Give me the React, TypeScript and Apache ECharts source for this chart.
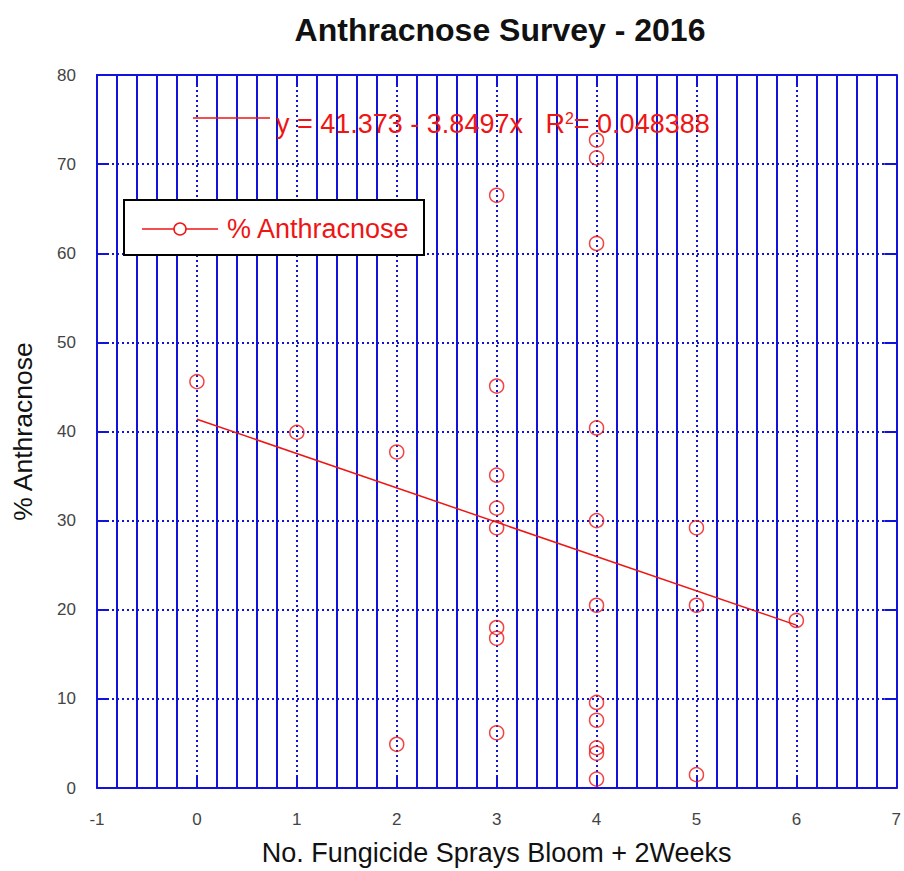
import React, { useEffect, useRef } from "react";
import * as echarts from "echarts";

// ---- data ----
const sprayCounts: number[] = [0, 1, 2, 2, 3, 3, 3, 3, 3, 3, 3, 3, 4, 4, 4, 4, 4, 4, 4, 4, 4, 4, 4, 5, 5, 5, 6];
const anthracnosePct: number[] = [45.6, 39.9, 37.7, 4.9, 66.5, 45.1, 35.1, 31.4, 29.2, 18.0, 16.8, 6.2, 72.7, 70.7, 61.1, 40.4, 30.0, 20.5, 9.6, 7.6, 4.5, 3.9, 1.0, 29.2, 20.5, 1.5, 18.8];
const fitX: number[] = [0, 6];
const fitY: number[] = [41.373, 18.275];
const xTicks = { min: -1, max: 7, step: 1 };
const yTicks = { min: 0, max: 80, step: 10 };
const TITLE = "Anthracnose Survey - 2016";
const SERIES_NAME = "% Anthracnose";
const X_NAME = "No. Fungicide Sprays Bloom + 2Weeks";
const Y_NAME = "% Anthracnose";

const BLUE = "#1212dd";
const RED = "#ee1515";
const FONT = "'Liberation Sans', Arial, Helvetica, sans-serif";

export default function App() {
  const ref = useRef<HTMLDivElement>(null);
  useEffect(() => {
    if (!ref.current) return;
    const chart = echarts.init(ref.current, undefined, { renderer: "svg" });
    const points = sprayCounts.map((x, i) => [x, anthracnosePct[i]]);
    const fit = fitX.map((x, i) => [x, fitY[i]]);
    const tickCommon = {
      show: true,
      inside: true,
      length: 12,
      lineStyle: { color: BLUE, width: 2 },
    };
    const lineCommon = { show: true, onZero: false, lineStyle: { color: BLUE, width: 2 } };
    const dotted = { show: true, lineStyle: { color: BLUE, width: 2, type: [2, 3] } };
    chart.setOption({
      animation: false,
      textStyle: { fontFamily: FONT },
      title: {
        text: TITLE,
        left: 495,
        textAlign: "center",
        top: 9,
        textStyle: { fontFamily: FONT, fontWeight: "bold", fontSize: 32, color: "#111" },
      },
      grid: { left: 97, right: 7, top: 75, bottom: 81, containLabel: false },
      xAxis: [
        {
          type: "value",
          min: xTicks.min,
          max: xTicks.max,
          interval: xTicks.step,
          position: "bottom",
          name: X_NAME,
          nameLocation: "middle",
          nameGap: 51,
          nameTextStyle: { fontFamily: FONT, fontSize: 27, color: "#111" },
          axisLine: lineCommon,
          axisTick: tickCommon,
          axisLabel: { fontFamily: FONT, fontSize: 17, color: "#444", margin: 23 },
          splitLine: dotted,
          minorTick: { show: false, splitNumber: 5 },
          minorSplitLine: { show: true, lineStyle: { color: BLUE, width: 2, type: "solid" } },
        },
        {
          type: "value",
          min: xTicks.min,
          max: xTicks.max,
          interval: xTicks.step,
          position: "top",
          axisLine: lineCommon,
          axisTick: tickCommon,
          axisLabel: { show: false },
          splitLine: { show: false },
        },
      ],
      yAxis: [
        {
          type: "value",
          min: yTicks.min,
          max: yTicks.max,
          interval: yTicks.step,
          position: "left",
          name: Y_NAME,
          nameLocation: "middle",
          nameGap: 61,
          nameTextStyle: { fontFamily: FONT, fontSize: 26.5, color: "#111" },
          axisLine: lineCommon,
          axisTick: tickCommon,
          axisLabel: { fontFamily: FONT, fontSize: 17, color: "#444", margin: 21 },
          splitLine: dotted,
        },
        {
          type: "value",
          min: yTicks.min,
          max: yTicks.max,
          interval: yTicks.step,
          position: "right",
          axisLine: lineCommon,
          axisTick: tickCommon,
          axisLabel: { show: false },
          splitLine: { show: false },
        },
      ],
      series: [
        {
          name: "fit",
          type: "line",
          data: fit,
          showSymbol: false,
          symbol: "none",
          lineStyle: { color: RED, width: 1.5 },
          z: 3,
        },
        {
          name: SERIES_NAME,
          type: "scatter",
          data: points,
          symbol: "circle",
          symbolSize: 14,
          itemStyle: { color: "rgba(0,0,0,0)", borderColor: RED, borderWidth: 1.5 },
          z: 4,
        },
      ],
      graphic: [
        {
          type: "line",
          shape: { x1: 193, y1: 118, x2: 270, y2: 118 },
          style: { stroke: RED, lineWidth: 1.5 },
          z: 10,
        },
        {
          type: "text",
          x: 276,
          y: 124,
          style: {
            text: "{a|y = 41.373 - 3.8497x   R}{s|2}{a|= 0.048388}",
            verticalAlign: "middle",
            rich: {
              a: { fontFamily: FONT, fontSize: 27, fill: RED },
              s: { fontFamily: FONT, fontSize: 16, fill: RED, verticalAlign: "top" },
            },
          },
          z: 10,
        },
        {
          type: "rect",
          shape: { x: 124, y: 200, width: 300, height: 55 },
          style: { fill: "#fff", stroke: "#000", lineWidth: 2 },
          z: 10,
        },
        {
          type: "line",
          shape: { x1: 142, y1: 229, x2: 218, y2: 229 },
          style: { stroke: RED, lineWidth: 1.5 },
          z: 11,
        },
        {
          type: "circle",
          shape: { cx: 180, cy: 229, r: 6 },
          style: { fill: "#fff", stroke: RED, lineWidth: 1.5 },
          z: 12,
        },
        {
          type: "text",
          x: 227,
          y: 229,
          style: {
            text: SERIES_NAME,
            fontFamily: FONT,
            fontSize: 27,
            fill: RED,
            verticalAlign: "middle",
          },
          z: 12,
        },
      ],
    });
    return () => chart.dispose();
  }, []);
  return (
    <div
      ref={ref}
      style={{ position: "absolute", left: 0, top: 0, width: 904, height: 871, background: "#fff" }}
    />
  );
}
